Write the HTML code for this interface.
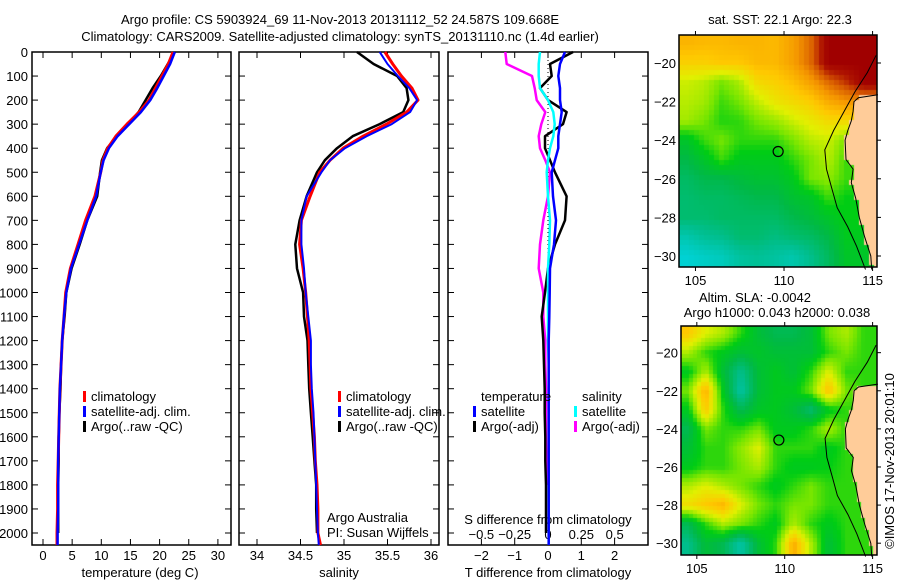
<!DOCTYPE html>
<html><head><meta charset="utf-8">
<style>
html,body{margin:0;padding:0;background:#fff;width:900px;height:580px;overflow:hidden}
#wrap{position:relative;width:900px;height:580px}
canvas{position:absolute}
svg{position:absolute;left:0;top:0}
text{font-family:"Liberation Sans",sans-serif;font-size:13px;fill:#000}
</style></head>
<body>
<div id="wrap">
<canvas id="sst" width="198" height="232" style="left:679px;top:35px"></canvas>
<canvas id="sla" width="196" height="229" style="left:681px;top:326px"></canvas>
<svg id="svg" width="900" height="580" xmlns="http://www.w3.org/2000/svg">
<text x="340" y="24" text-anchor="middle">Argo profile: CS 5903924_69 11-Nov-2013 20131112_52 24.587S 109.668E</text>
<text x="340" y="41" text-anchor="middle">Climatology: CARS2009. Satellite-adjusted climatology: synTS_20131110.nc (1.4d earlier)</text>
</svg>
</div>
<script>
// ---------- profile data ----------
const depths = [0,50,100,150,200,250,300,350,400,450,500,600,700,800,900,1000,1100,1200,1300,1400,1500,1600,1700,1800,1900,2000,2050];
const tempClim = [22.3,21.5,20.4,19.3,18.2,16.5,14.4,12.5,11.1,10.3,9.9,8.9,7.3,6.0,4.7,3.9,3.6,3.3,3.1,2.9,2.8,2.7,2.6,2.5,2.5,2.4,2.4];
const tempSat  = [22.6,21.8,20.7,19.6,18.4,16.8,14.8,12.8,11.3,10.4,9.9,9.1,7.6,6.2,4.8,4.0,3.6,3.3,3.1,2.9,2.8,2.7,2.6,2.6,2.6,2.5,2.5];
const tempArgo = [22.6,21.4,20.2,18.8,17.6,16.4,14.6,12.7,11.0,10.1,9.8,9.3,7.6,6.3,4.9,4.0,3.7,3.3,3.1,3.0,2.8,2.7,2.7,2.6,2.6,2.6,null];
const salClim = [35.47,35.56,35.66,35.78,35.85,35.72,35.49,35.22,34.99,34.84,34.72,34.61,34.51,34.49,34.53,34.56,34.58,34.60,34.61,34.62,34.64,34.66,34.67,34.69,34.70,34.70,34.73];
const salSat  = [35.41,35.50,35.62,35.75,35.84,35.76,35.55,35.26,35.01,34.84,34.74,34.57,34.51,34.51,34.54,34.56,34.59,34.62,34.62,34.63,34.65,34.66,34.67,34.68,34.69,34.70,34.71];
const salArgo = [35.15,35.34,35.61,35.72,35.74,35.68,35.41,35.10,34.92,34.78,34.69,34.57,34.49,34.44,34.46,34.53,34.54,34.58,34.59,34.60,34.62,34.64,34.66,34.68,34.68,34.69,null];
const dTSat  = [0.51,0.36,0.31,0.36,0.36,0.41,0.36,0.31,0.31,0.21,0.11,0.15,0.24,0.18,0.06,0.05,0.04,0.02,0.02,0.02,0.02,0.02,0.02,0.02,0.02,0.02,0.02];
const dTArgo = [0.75,0.06,0.11,-0.24,0.0,0.56,0.45,-0.09,-0.09,0.06,0.21,0.56,0.51,0.21,0.0,-0.09,-0.19,-0.14,-0.12,-0.10,-0.10,-0.08,-0.08,-0.06,-0.06,-0.06,null];
const dSSat  = [-0.06,-0.07,-0.07,-0.06,0.0,0.04,0.05,0.04,0.015,0.0,-0.01,0.0,0.015,0.01,0.0,0.0,0.0,0.0,0.005,0.005,0.005,0.005,0.005,0.005,0.005,0.005,0.005];
const dSArgo = [-0.32,-0.31,-0.12,-0.10,-0.085,-0.02,-0.05,-0.07,-0.06,-0.02,0.015,0.0,-0.035,-0.06,-0.07,-0.035,-0.035,-0.02,-0.02,-0.015,-0.015,-0.015,-0.012,-0.01,null,null,null];
const depthTicks = [0,100,200,300,400,500,600,700,800,900,1000,1100,1200,1300,1400,1500,1600,1700,1800,1900,2000];
const tTicks = [0,5,10,15,20,25,30];
const sTicks = [34,34.5,35,35.5,36];
const sTickLabels = ["34","34.5","35","35.5","36"];
const dTTicks = [-2,-1,0,1,2];
const dSTicks = [-0.5,-0.25,0,0.25,0.5];
const dSTickLabels = ["\u22120.5","\u22120.25","0","0.25","0.5"];

// ---------- map data ----------
const mapLats = [-19,-20,-21,-22,-23,-24,-25,-26,-27,-28,-29,-30];
const mapLons = [104.5,105.5,106.5,107.5,108.5,109.5,110.5,111.5,112.5,113.5,114.5];
const sstGrid = [
[0.74,0.73,0.73,0.74,0.74,0.73,0.78,0.86,1,1,1],
[0.68,0.68,0.70,0.70,0.73,0.73,0.78,0.86,1,1,1],
[0.58,0.56,0.50,0.55,0.66,0.68,0.72,0.78,0.86,0.92,1],
[0.56,0.54,0.46,0.50,0.57,0.63,0.66,0.69,0.76,0.80,0.80],
[0.54,0.50,0.44,0.45,0.50,0.53,0.58,0.62,0.66,0.66,0.66],
[0.38,0.46,0.50,0.45,0.45,0.45,0.50,0.56,0.58,0.50,0.50],
[0.32,0.38,0.46,0.40,0.40,0.40,0.45,0.50,0.56,0.46,0.46],
[0.27,0.31,0.31,0.34,0.36,0.36,0.40,0.50,0.52,0.46,0.46],
[0.25,0.27,0.27,0.29,0.31,0.31,0.36,0.38,0.46,0.42,0.42],
[0.25,0.25,0.27,0.27,0.27,0.27,0.31,0.34,0.38,0.42,0.42],
[0.13,0.18,0.20,0.25,0.25,0.22,0.25,0.27,0.32,0.40,0.40],
[0.05,0.08,0.10,0.16,0.18,0.16,0.13,0.20,0.28,0.38,0.38]];
const slaGrid = [
[0.70,0.60,0.55,0.45,0.35,0.30,0.30,0.35,0.50,0.55,0.45],
[0.55,0.45,0.40,0.35,0.38,0.35,0.35,0.35,0.45,0.50,0.45],
[0.40,0.55,0.35,0.20,0.35,0.40,0.35,0.45,0.60,0.45,0.45],
[0.50,0.75,0.40,0.15,0.35,0.40,0.40,0.50,0.72,0.50,0.45],
[0.40,0.70,0.45,0.30,0.38,0.40,0.35,0.25,0.40,0.45,0.45],
[0.30,0.50,0.45,0.45,0.50,0.40,0.40,0.45,0.55,0.45,0.45],
[0.35,0.45,0.45,0.52,0.60,0.45,0.45,0.45,0.40,0.45,0.45],
[0.40,0.45,0.45,0.50,0.55,0.45,0.40,0.40,0.42,0.45,0.45],
[0.55,0.60,0.55,0.50,0.45,0.40,0.45,0.50,0.45,0.45,0.45],
[0.65,0.70,0.74,0.60,0.50,0.45,0.50,0.50,0.45,0.45,0.45],
[0.30,0.45,0.55,0.50,0.45,0.40,0.55,0.45,0.40,0.45,0.45],
[0.20,0.35,0.30,0.15,0.35,0.45,0.76,0.55,0.35,0.45,0.45]];
const coastLats = [-21.65,-21.8,-22.0,-22.5,-23.0,-23.5,-24.0,-25.0,-25.5,-26.2,-27.0,-28.0,-29.0,-30.0,-30.7];
const coastLons = [115.3,114.2,113.95,113.9,113.8,113.6,113.45,113.5,113.9,113.8,114.05,114.25,114.55,114.9,114.95];
const shelfLats = [-19.6,-20.5,-21.5,-22.5,-23.5,-24.5,-25.5,-26.5,-27.5,-28.5,-29.5,-30.7];
const shelfLons = [115.2,114.7,114.0,113.4,112.8,112.3,112.4,112.7,113.0,113.6,114.1,114.6];
const argoLon = 109.668, argoLat = -24.587;

const NS = "http://www.w3.org/2000/svg";
const svg = document.getElementById('svg');
function mk(tag, attrs, parent){ const e=document.createElementNS(NS,tag); for(const k in attrs) e.setAttribute(k,attrs[k]); (parent||svg).appendChild(e); return e; }
function txt(x,y,s,anchor,parent){ const t=mk('text',{x:x,y:y,'text-anchor':anchor||'start'},parent); t.textContent=s; return t; }

const yTop=52, yBot=545;
const yD = d => yTop + d*0.2405;

function panel(name,x0,x1,xScale,xTicksTop){
  const g=mk('g',{});
  
  
  const r=mk('rect',{x:x0,y:yTop,width:x1-x0,height:yBot-yTop,fill:'none',stroke:'#000','stroke-width':1.5},g);
  
  
  depthTicks.forEach(d=>{
    const y=yD(d);
    mk('line',{x1:x0,x2:x0+6,y1:y,y2:y,stroke:'#000'},g);
    mk('line',{x1:x1-6,x2:x1,y1:y,y2:y,stroke:'#000'},g);
  });
  xTicksTop.forEach(v=>{
    const x=xScale(v);
    mk('line',{x1:x,x2:x,y1:yTop,y2:yTop+6,stroke:'#000'},g);
    mk('line',{x1:x,x2:x,y1:yBot-6,y2:yBot,stroke:'#000'},g);
  });
  return g;
}
function series(g,vals,xScale,color,w,name){
  let d='', pen=false;
  for(let i=0;i<depths.length;i++){
    const v=vals[i];
    if(v===null||v===undefined){pen=false;continue;}
    d+=(pen?'L':'M')+xScale(v).toFixed(1)+','+yD(depths[i]).toFixed(1);
    pen=true;
  }
  const p=mk('path',{d:d,fill:'none',stroke:color,'stroke-width':w,'stroke-linejoin':'round'},g);
  
  
}
function legendEntry(g,x,y,color,label,name){
  const gg=mk('g',{},g);
  
  
  mk('rect',{x:x,y:y-10,width:3,height:11,fill:color},gg);
  txt(x+8,y,label,'start',gg);
}

// Panel 1: temperature
const xT = v => 43 + v*5.83;
const p1=panel('temperature-panel',32,231,xT,tTicks);
depthTicks.forEach(d=>{ const t=txt(28,yD(d)+5,String(d),'end',p1);   });
tTicks.forEach(v=>txt(xT(v),560,String(v),'middle',p1));
const t1=txt(140,577,'temperature (deg C)','middle',p1);


series(p1,tempArgo,xT,'#000',2.5,'temp-argo-line');
series(p1,tempClim,xT,'#ff0000',3,'temp-climatology-line');
series(p1,tempSat,xT,'#0000ff',2.5,'temp-satellite-line');
legendEntry(p1,83,401,'#ff0000','climatology','legend-climatology');
legendEntry(p1,83,416,'#0000ff','satellite-adj. clim.','legend-satellite');
legendEntry(p1,83,431,'#000','Argo(..raw -QC)','legend-argo');

// Panel 2: salinity
const xS = v => 257 + (v-34)*87;
const p2=panel('salinity-panel',239,439,xS,sTicks);
sTicks.forEach((v,i)=>txt(xS(v),560,sTickLabels[i],'middle',p2));
const t2=txt(339,577,'salinity','middle',p2);


series(p2,salArgo,xS,'#000',2.5,'sal-argo-line');
series(p2,salClim,xS,'#ff0000',3,'sal-climatology-line');
series(p2,salSat,xS,'#0000ff',2,'sal-satellite-line');
legendEntry(p2,338,401,'#ff0000','climatology','legend-climatology-2');
legendEntry(p2,338,416,'#0000ff','satellite-adj. clim.','legend-satellite-2');
legendEntry(p2,338,431,'#000','Argo(..raw -QC)','legend-argo-2');
const cr=mk('g',{},p2);


txt(327,522,'Argo Australia','start',cr);
txt(327,537,'PI: Susan Wijffels','start',cr);

// Panel 3: differences
const xDT = v => 548 + v*33.3;
const xDS = v => 548 + v*133.3;
const p3=panel('difference-panel',448,648,xDT,dTTicks);
mk('line',{x1:xDT(0),x2:xDT(0),y1:yTop,y2:yBot,stroke:'#000','stroke-dasharray':'1,3'},p3);
dTTicks.forEach(v=>txt(xDT(v),560,String(v).replace('-','\u2212'),'middle',p3));
dSTicks.forEach((v,i)=>txt(xDS(v),539,dSTickLabels[i],'middle',p3));
txt(548,524,'S difference from climatology','middle',p3);
const t3=txt(548,577,'T difference from climatology','middle',p3);


series(p3,dSArgo,xDS,'#ff00ff',2.5,'sdiff-argo-line');
series(p3,dTArgo,xDT,'#000',2.5,'tdiff-argo-line');
series(p3,dSSat,xDS,'#00ffff',2.5,'sdiff-satellite-line');
series(p3,dTSat,xDT,'#0000ff',2.5,'tdiff-satellite-line');
txt(481,401,'temperature','start',p3);
legendEntry(p3,473,416,'#0000ff','satellite','legend-tdiff-satellite');
legendEntry(p3,473,431,'#000','Argo(-adj)','legend-tdiff-argo');
txt(582,401,'salinity','start',p3);
legendEntry(p3,574,416,'#00ffff','satellite','legend-sdiff-satellite');
legendEntry(p3,574,431,'#ff00ff','Argo(-adj)','legend-sdiff-argo');

// ---------- maps ----------
const stops=[[0,[0,215,235]],[0.2,[0,190,140]],[0.32,[0,185,70]],[0.42,[0,205,20]],[0.5,[120,230,0]],[0.6,[225,240,0]],[0.7,[255,200,0]],[0.8,[245,150,0]],[0.88,[215,90,0]],[0.95,[175,20,0]],[1,[160,0,0]]];
function cmap(v){
  v=Math.max(0,Math.min(1,v));
  for(let i=1;i<stops.length;i++){ if(v<=stops[i][0]){const a=stops[i-1],b=stops[i],f=(v-a[0])/(b[0]-a[0]); return a[1].map((c,k)=>Math.round(c+(b[1][k]-c)*f));}}
  return stops[stops.length-1][1];
}
function interp(arrY,arrX,y){
  if(y>=arrY[0]) return arrX[0];
  for(let i=1;i<arrY.length;i++) if(y>=arrY[i]){const f=(y-arrY[i-1])/(arrY[i]-arrY[i-1]);return arrX[i-1]+(arrX[i]-arrX[i-1])*f;}
  return arrX[arrX.length-1];
}
function gridVal(grid,lon,lat){
  let fi=(mapLats[0]-lat), fj=(lon-mapLons[0]);
  fi=Math.max(0,Math.min(mapLats.length-1.001,fi)); fj=Math.max(0,Math.min(mapLons.length-1.001,fj));
  const i=Math.floor(fi), j=Math.floor(fj), a=fi-i, b=fj-j;
  return grid[i][j]*(1-a)*(1-b)+grid[i+1][j]*a*(1-b)+grid[i][j+1]*(1-a)*b+grid[i+1][j+1]*a*b;
}
function drawMap(id,grid,lon0,lon1,lat0,lat1,cell){
  const c=document.getElementById(id), ctx=c.getContext('2d'), W=c.width, H=c.height;
  for(let y=0;y<H;y+=cell) for(let x=0;x<W;x+=cell){
    const lon=lon0+(x+cell/2)/W*(lon1-lon0), lat=lat0+(y+cell/2)/H*(lat1-lat0);
    let col;
    if(lat< -21.65 && lon>interp(coastLats,coastLons,lat)) col=[255,204,153];
    else col=cmap(gridVal(grid,lon,lat));
    ctx.fillStyle='rgb('+col.join(',')+')'; ctx.fillRect(x,y,cell,cell);
  }
}
drawMap('sst',sstGrid,104.07,115.25,-18.55,-30.57,5);
drawMap('sla',slaGrid,104.1,115.25,-18.6,-30.62,4);

function mapFrame(name,L,R,T,B,lon0,lon1,lat0,lat1){
  const g=mk('g',{});
  
  
  const X=lon=>L+(lon-lon0)/(lon1-lon0)*(R-L), Y=lat=>T+(lat-lat0)/(lat1-lat0)*(B-T);
  const poly=(lats,lons)=>lats.map((la,i)=>(i?'L':'M')+X(lons[i]).toFixed(1)+','+Y(la).toFixed(1)).join('');
  mk('path',{d:poly(coastLats,coastLons),fill:'none',stroke:'#000','stroke-width':1},g);
  mk('path',{d:poly(shelfLats,shelfLons),fill:'none',stroke:'#000','stroke-width':1},g);
  mk('circle',{cx:X(argoLon),cy:Y(argoLat),r:5,fill:'none',stroke:'#000','stroke-width':1.2},g);
  mk('rect',{x:L,y:T,width:R-L,height:B-T,fill:'none',stroke:'#000','stroke-width':1.5},g);
  [105,110,115].forEach(v=>{mk('line',{x1:X(v),x2:X(v),y1:T-4,y2:T,stroke:'#000'},g);mk('line',{x1:X(v),x2:X(v),y1:B,y2:B+4,stroke:'#000'},g);txt(X(v),B+18,String(v),'middle',g);});
  [-20,-22,-24,-26,-28,-30].forEach(v=>{mk('line',{x1:R,x2:R+4,y1:Y(v),y2:Y(v),stroke:'#000'},g);txt(L-3,Y(v)+5,'\u2212'+String(-v),'end',g);});
  return g;
}
mapFrame('sst-map-axes',679,877,35,267,104.07,115.25,-18.55,-30.57);
mapFrame('sla-map-axes',681,877,326,555,104.1,115.25,-18.6,-30.62);
const s1=txt(780,24,'sat. SST: 22.1 Argo: 22.3','middle');  
const s2=txt(755,302,'Altim. SLA: -0.0042','middle');  
const s3=txt(777,317,'Argo h1000: 0.043 h2000: 0.038','middle');  
const s4=txt(0,0,'\u00a9IMOS 17-Nov-2013 20:01:10','middle'); s4.setAttribute('transform','translate(894,461) rotate(-90)');  
</script>
</body></html>
